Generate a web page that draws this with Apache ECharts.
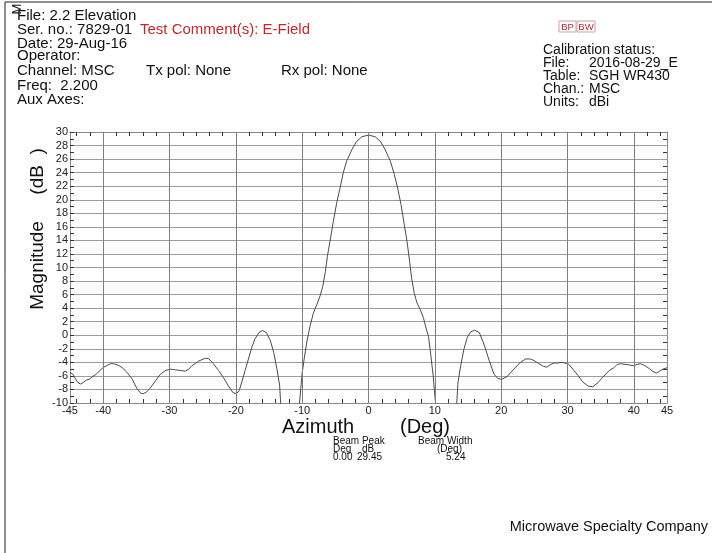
<!DOCTYPE html>
<html><head><meta charset="utf-8">
<script src="https://cdn.jsdelivr.net/npm/echarts@6/dist/echarts.min.js"></script>
<style>html,body{margin:0;padding:0;background:#fff}#c{width:712px;height:553px}</style>
</head><body><div id="c"></div>
<script>
const azimuth = [
 -45.0,-44.6,-44.2,-43.8,-43.4,-42.9,-42.5,-42.1,-41.6,-41.1,-40.6,-40.0,-39.5,-38.9,-38.5,-38.1,-37.6,-37.1,-36.4,-35.6,
 -34.9,-34.3,-33.9,-33.5,-32.9,-32.1,-31.4,-30.6,-29.9,-29.1,-28.4,-27.6,-27.1,-26.6,-25.6,-24.6,-24.1,-23.4,-22.6,-21.9,
 -21.1,-20.4,-19.9,-19.5,-19.1,-18.6,-18.1,-17.6,-17.1,-16.5,-16.0,-15.4,-14.8,-14.3,-13.8,-13.4,-13.0,-11.8,-10.6,
 -10.4,-10.2,-10.0,-9.7,-9.3,-8.8,-8.3,-7.8,-7.3,-6.9,-6.5,-6.2,-5.8,-5.3,-4.8,-4.3,-3.8,-3.3,-2.5,-1.8,-1.0,0.0,
 1.0,1.8,2.5,3.3,3.9,4.4,4.9,5.4,5.8,6.2,6.5,6.9,7.3,7.8,8.3,8.8,9.05,9.4,9.75,10.05,10.2,11.6,13.1,
 13.3,13.5,13.9,14.4,14.9,15.4,16.0,16.7,17.4,18.2,18.9,19.5,20.1,20.9,21.9,22.9,23.7,24.4,25.0,25.7,26.4,26.9,
 27.5,28.0,28.5,29.1,29.6,30.1,30.8,31.6,32.3,33.1,33.8,34.6,35.3,36.3,37.0,37.5,38.0,38.8,39.4,40.0,40.5,41.0,
 41.7,42.3,42.8,43.4,43.9,44.4,45.0
];
const magnitude = [
 -5.5,-5.7,-6.4,-7.0,-7.2,-6.9,-6.6,-6.5,-6.1,-5.8,-5.3,-4.75,-4.5,-4.2,-4.2,-4.3,-4.5,-4.8,-5.5,-6.5,
 -7.9,-8.6,-8.6,-8.4,-7.8,-6.7,-5.8,-5.2,-5.0,-5.1,-5.2,-5.3,-5.0,-4.5,-3.8,-3.4,-3.45,-4.2,-5.2,-6.2,
 -7.5,-8.5,-8.6,-8.2,-6.9,-5.2,-3.5,-1.8,-0.5,0.4,0.7,0.4,-0.8,-2.5,-5.0,-7.4,-14,-25,-14,
 -10.0,-7.8,-5.6,-3.5,-1.0,1.4,3.3,4.5,5.8,7.2,9.4,11.6,13.9,16.8,19.5,21.7,24.0,25.7,27.4,28.6,29.3,29.55,
 29.3,28.6,27.4,25.7,23.7,21.7,19.3,16.3,13.9,10.9,8.4,6.2,4.8,3.8,2.5,0.6,-0.2,-3.0,-6.0,-9.4,-11,-25,-14,
 -10.0,-6.9,-4.5,-2.0,-0.3,0.5,0.75,0.4,-1.3,-3.75,-5.7,-6.4,-6.5,-6.1,-5.0,-4.0,-3.5,-3.5,-3.75,-4.2,-4.6,-4.7,
 -4.3,-4.1,-4.1,-4.0,-4.1,-4.2,-5.0,-5.95,-6.9,-7.5,-7.6,-7.0,-6.2,-5.2,-4.8,-4.3,-4.2,-4.3,-4.4,-4.5,-4.3,-4.2,
 -4.5,-4.9,-5.3,-5.6,-5.3,-5.0,-4.8
];
const xLabelValues = [-45,-40,-30,-20,-10,0,10,20,30,40,45];
const xTickValues = [-44,-42,-40,-38,-36,-34,-32,-30,-28,-26,-24,-22,-20,-18,-16,-14,-12,-10,-8,-6,-4,-2,0,2,4,6,8,10,12,14,16,18,20,22,24,26,28,30,32,34,36,38,40,42,44];
const xGridValues = [-40,-30,-20,-10,0,10,20,30,40];
const headerLeft = [
  ['File: 2.2 Elevation', 17, 16],
  ['Ser. no.: 7829-01', 17, 30],
  ['Date: 29-Aug-16', 17, 44],
  ['Operator:', 17, 56],
  ['Channel: MSC', 17, 71],
  ['Freq:  2.200', 17, 86],
  ['Aux Axes:', 17, 100]
];
const headerRightLabels = [
  ['Calibration status:', 543, 50],
  ['File:', 543, 63],
  ['Table:', 543, 76],
  ['Chan.:', 543, 89],
  ['Units:', 543, 102]
];
const headerRightValues = [
  ['2016-08-29_E', 589, 63],
  ['SGH WR430', 589, 76],
  ['MSC', 589, 89],
  ['dBi', 589, 102]
];

const chart = echarts.init(document.getElementById('c'), null, {renderer: 'canvas'});
const FONT = '"Liberation Sans", Arial, sans-serif';
const NARROW = '"Liberation Sans Narrow", "Liberation Sans", Arial, sans-serif';

function txt(text, x, y, size, color, opts) {
  opts = opts || {};
  return {
    type: 'text', x: x, y: y, silent: true, rotation: opts.rotation || 0,
    style: {text: text, fill: color || '#111', font: size + 'px ' + (opts.font || FONT),
            verticalAlign: 'middle', align: opts.align || 'left'}
  };
}

const graphics = [];
graphics.push({type: 'line', shape: {x1: 5, y1: 2, x2: 712, y2: 2}, style: {stroke: '#222', lineWidth: 1}, silent: true});
graphics.push({type: 'line', shape: {x1: 5, y1: 2, x2: 5, y2: 553}, style: {stroke: '#222', lineWidth: 1}, silent: true});
graphics.push(txt('M', 17, 9, 13, '#111', {rotation: Math.PI / 2, align: 'center'}));
headerLeft.forEach(h => graphics.push(txt(h[0], h[1], h[2], 15)));
graphics.push(txt('Test Comment(s): E-Field', 140, 30, 15, '#c0282d'));
graphics.push(txt('Tx pol: None', 146, 71, 15));
graphics.push(txt('Rx pol: None', 281, 71, 15));
headerRightLabels.forEach(h => graphics.push(txt(h[0], h[1], h[2], 14)));
headerRightValues.forEach(h => graphics.push(txt(h[0], h[1], h[2], 14)));
graphics.push({type: 'rect', shape: {x: 559, y: 21, width: 17, height: 11}, style: {fill: 'none', stroke: '#c9a0a8', lineWidth: 1}, silent: true});
graphics.push({type: 'rect', shape: {x: 577, y: 21, width: 18, height: 11}, style: {fill: 'none', stroke: '#c9a0a8', lineWidth: 1}, silent: true});
graphics.push(txt('BP', 567.5, 27, 9.5, '#c0282d', {align: 'center'}));
graphics.push(txt('BW', 586, 27, 9.5, '#c0282d', {align: 'center'}));
graphics.push(txt('Magnitude     (dB  )', 38, 229, 19, '#111', {rotation: Math.PI / 2, align: 'center'}));
graphics.push(txt('Azimuth', 282, 427, 20));
graphics.push(txt('(Deg)', 400, 427, 20));
[['Beam Peak', 333, 441], ['Beam Width', 418, 441], ['Deg', 333, 449], ['dB', 362, 449], ['(Deg)', 437, 449],
 ['0.00', 333, 457], ['29.45', 357, 457], ['5.24', 446, 457]].forEach(t =>
  graphics.push(txt(t[0], t[1], t[2], 10, '#111', {font: NARROW})));
graphics.push(txt('Microwave Specialty Company', 708, 527, 14.5, '#111', {align: 'right'}));

const axisLineStyle = {color: '#8a8a8a', width: 1};
const option = {
  animation: false,
  backgroundColor: '#fff',
  grid: {left: 70, right: 45, top: 132, bottom: 150, containLabel: false},
  xAxis: [
    {type: 'value', min: -45, max: 45, position: 'bottom',
     axisLine: {show: true, onZero: false, lineStyle: axisLineStyle},
     axisTick: {show: true, inside: true, length: 4, customValues: xTickValues, lineStyle: {color: '#333'}},
     axisLabel: {show: true, customValues: xLabelValues, margin: 2, fontSize: 11, color: '#222', fontFamily: NARROW},
     splitLine: {show: false}},
    {type: 'value', min: -45, max: 45, position: 'top',
     axisLine: {show: true, onZero: false, lineStyle: axisLineStyle},
     axisTick: {show: true, inside: true, length: 4, customValues: xTickValues, lineStyle: {color: '#333'}},
     axisLabel: {show: false},
     splitLine: {show: false}}
  ],
  yAxis: [
    {type: 'value', min: -10, max: 30, interval: 2, position: 'left',
     axisLine: {show: true, onZero: false, lineStyle: axisLineStyle},
     axisTick: {show: true, inside: true, length: 4, lineStyle: {color: '#333'}},
     minorTick: {show: true, splitNumber: 2, length: 4, lineStyle: {color: '#333'}},
     axisLabel: {margin: 2, fontSize: 11, color: '#222', fontFamily: NARROW},
     splitLine: {show: true, lineStyle: {color: '#9c9c9c', width: 1}}},
    {type: 'value', min: -10, max: 30, interval: 2, position: 'right',
     axisLine: {show: true, onZero: false, lineStyle: axisLineStyle},
     axisTick: {show: false, inside: true},
     minorTick: {show: true, splitNumber: 2, length: 4, lineStyle: {color: '#333'}},
     axisLabel: {show: false},
     splitLine: {show: false}}
  ],
  series: [{
    type: 'line',
    xAxisIndex: 0, yAxisIndex: 0,
    data: azimuth.map((x, i) => [x, magnitude[i]]),
    symbol: 'none', smooth: false, clip: true,
    lineStyle: {color: '#4a4a4a', width: 1},
    markLine: {
      silent: true, symbol: ['none', 'none'], label: {show: false},
      lineStyle: {color: '#7e7e7e', type: 'solid', width: 1},
      emphasis: {disabled: true},
      data: xGridValues.map(v => ({xAxis: v}))
    }
  }],
  graphic: graphics
};
chart.setOption(option);
</script></body></html>
